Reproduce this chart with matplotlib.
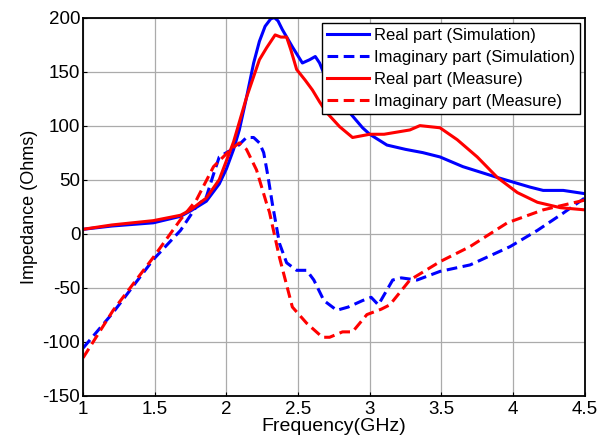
import matplotlib
matplotlib.use("Agg")
import matplotlib.pyplot as plt

plt.rcParams['font.family'] = ['Liberation Sans', 'DejaVu Sans']
plt.rcParams['axes.unicode_minus'] = False

# Real part (Simulation)
re_sim_x = [1.0, 1.2, 1.49, 1.68, 1.75, 1.86, 1.95, 2.0, 2.05, 2.09, 2.14, 2.19, 2.23, 2.27, 2.31, 2.335, 2.36, 2.39, 2.46, 2.53, 2.58, 2.62, 2.65, 2.70, 2.75, 2.86, 2.95, 3.0, 3.06, 3.12, 3.25, 3.37, 3.49, 3.65, 3.89, 4.12, 4.21, 4.35, 4.5]
re_sim_y = [4, 7, 10, 16, 21, 30, 46, 60, 78, 96, 126, 158, 178, 192, 199, 200, 197, 189, 173, 158, 161, 164, 158, 142, 130, 112, 98, 92, 87, 82, 78, 75, 71, 62, 52, 43, 40, 40, 37]

# Imaginary part (Simulation)
im_sim_x = [1.0, 1.21, 1.49, 1.68, 1.79, 1.86, 1.91, 1.95, 2.0, 2.07, 2.14, 2.19, 2.23, 2.26, 2.29, 2.32, 2.37, 2.42, 2.49, 2.56, 2.61, 2.68, 2.77, 2.85, 2.95, 3.01, 3.06, 3.16, 3.22, 3.33, 3.49, 3.70, 3.98, 4.17, 4.35, 4.5]
im_sim_y = [-106, -73, -24, 3, 25, 34, 55, 71, 75, 80, 89, 89, 84, 75, 53, 28, -9, -27, -34, -34, -43, -62, -71, -68, -62, -59, -66, -43, -41, -43, -35, -29, -12, 3, 19, 33]

# Real part (Measure)
re_meas_x = [1.0, 1.2, 1.49, 1.68, 1.75, 1.86, 1.95, 2.05, 2.14, 2.23, 2.28, 2.34, 2.38, 2.42, 2.45, 2.49, 2.55, 2.6, 2.65, 2.70, 2.79, 2.88, 3.0, 3.1, 3.19, 3.28, 3.35, 3.49, 3.61, 3.75, 3.89, 4.03, 4.17, 4.33, 4.5]
re_meas_y = [4, 8, 12, 17, 22, 33, 50, 85, 126, 161, 172, 184, 182, 182, 170, 152, 142, 133, 122, 112, 99, 89, 92, 92, 94, 96, 100, 98, 87, 71, 52, 38, 29, 24, 22]

# Imaginary part (Measure)
im_meas_x = [1.0, 1.21, 1.49, 1.68, 1.79, 1.91, 2.03, 2.09, 2.14, 2.21, 2.28, 2.30, 2.37, 2.46, 2.56, 2.67, 2.72, 2.81, 2.88, 2.98, 3.08, 3.14, 3.28, 3.49, 3.70, 3.96, 4.21, 4.5]
im_meas_y = [-115, -71, -22, 13, 31, 62, 78, 84, 78, 59, 28, 20, -22, -68, -83, -96, -96, -91, -91, -75, -70, -66, -43, -26, -12, 10, 22, 31]

fig = plt.figure(figsize=(6.11, 4.41), dpi=100)
ax = fig.add_axes([0.136, 0.103, 0.821, 0.857])

lw = 2.2
dash = (0, (3.5, 1.8))
ax.plot(re_sim_x, re_sim_y, color='#0000ff', lw=lw, label='Real part (Simulation)')
ax.plot(im_sim_x, im_sim_y, color='#0000ff', lw=lw, linestyle=dash, label='Imaginary part (Simulation)')
ax.plot(re_meas_x, re_meas_y, color='#ff0000', lw=lw, label='Real part (Measure)')
ax.plot(im_meas_x, im_meas_y, color='#ff0000', lw=lw, linestyle=dash, label='Imaginary part (Measure)')

ax.set_xlim(1, 4.5)
ax.set_ylim(-150, 200)
ax.set_xticks([1, 1.5, 2, 2.5, 3, 3.5, 4, 4.5])
ax.set_xticklabels(['1', '1.5', '2', '2.5', '3', '3.5', '4', '4.5'])
ax.set_yticks(list(range(-150, 201, 50)))
ax.grid(True, color='#ababab', lw=0.9)
ax.tick_params(direction='in', labelsize=13.5, length=3)
ax.tick_params(axis='x', pad=4)
ax.tick_params(axis='y', pad=2)
for s in ax.spines.values():
    s.set_linewidth(1.3)
ax.set_xlabel('Frequency(GHz)', fontsize=14, labelpad=0)
ax.set_ylabel('Impedance (Ohms)', fontsize=13, labelpad=3)

leg = ax.legend(loc='upper right', fontsize=12, frameon=True, fancybox=False,
                edgecolor='black', framealpha=1, borderaxespad=0.3,
                handlelength=2.5, labelspacing=0.42, borderpad=0.3, handletextpad=0.3)
leg.get_frame().set_linewidth(1.0)

fig.savefig('out.png', dpi=100)
